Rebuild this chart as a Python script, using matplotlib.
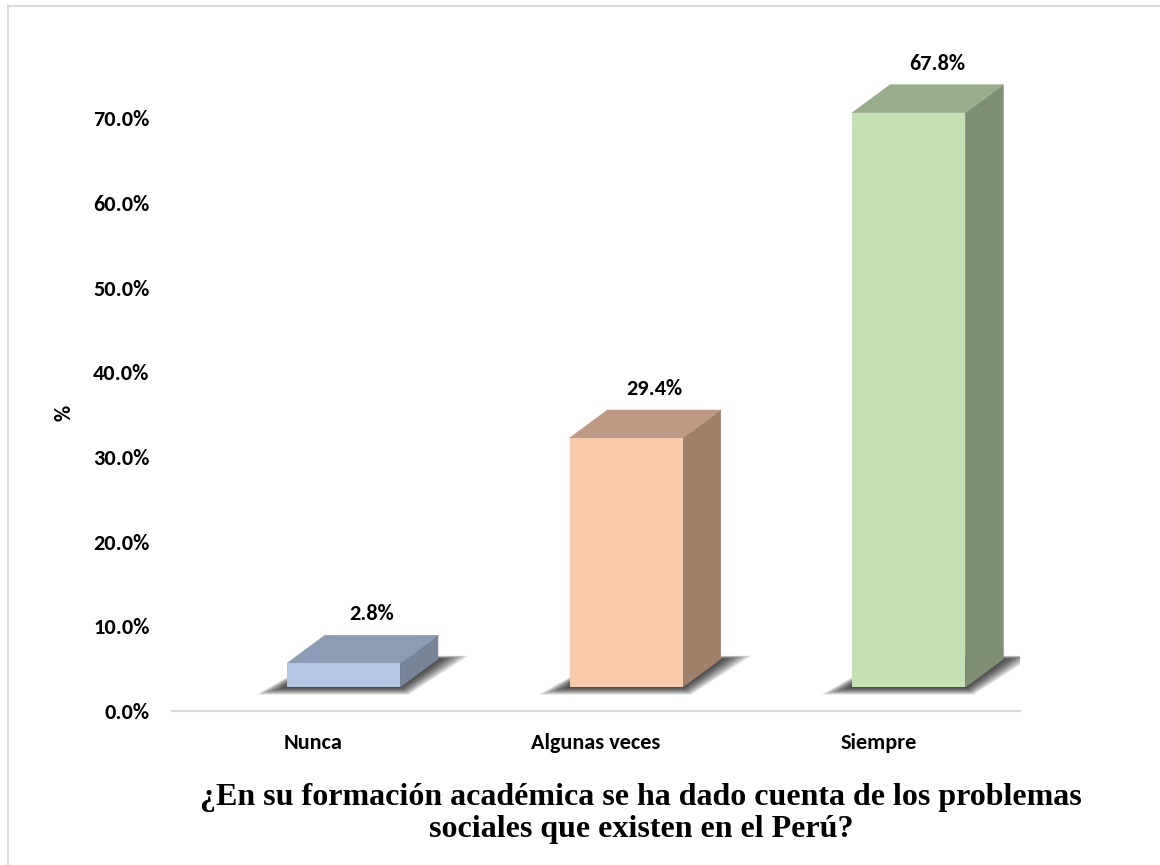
import matplotlib.pyplot as plt
from matplotlib.patches import Polygon
from matplotlib.lines import Line2D

# categories and values (%)
categorias = ['Nunca', 'Algunas veces', 'Siempre']
valores = [2.8, 29.4, 67.8]
etiquetas = ['2.8%', '29.4%', '67.8%']
yticks = [0, 10, 20, 30, 40, 50, 60, 70]
titulo = '¿En su formación académica se ha dado cuenta de los problemas\nsociales que existen en el Perú?'

# colours: front, top, side
frente = ['#B4C7E7', '#F8CBAD', '#C5E0B4']
arriba = ['#8D9CB5', '#BF9983', '#98AE8A']
lado = ['#77849A', '#A0806A', '#7F8F72']

# 3d look
off = 0.108     # front face shift to the right of the category centre
ancho = 0.40
dx = 0.134      # depth in x (data units)
dy = 3.3        # depth in y (%)
piso = 2.83     # floor raised above the axis line

fuente = 'Carlito'
fs = 16

fig = plt.figure(figsize=(11.6, 8.65), dpi=100)
ax = fig.add_axes([0.148, 0.178, 0.731, 0.7834])

x = list(range(len(categorias)))
xf = [i + off for i in x]

# soft shadow under each bar: stacked translucent layers, largest first
n = 14
for xi, v in zip(xf, valores):
    x0 = xi - ancho / 2
    x1 = xi + ancho / 2
    for k in range(n):
        s = 1 - k / n
        pts = [(x0 - 0.11 * s, piso - 0.9 * s), (x1 + 0.03 * s, piso - 0.9 * s),
               (x1 + dx + 0.11 * s, piso + dy + 0.4 * s),
               (x0 + dx, piso + dy + 0.4 * s)]
        ax.add_patch(Polygon(pts, closed=True, facecolor='black', edgecolor='none',
                             alpha=0.08, zorder=1))

# front faces
ax.bar(xf, valores, width=ancho, bottom=piso, color=frente, zorder=4)

# side and top faces
for xi, v, ct, cs in zip(xf, valores, arriba, lado):
    x0 = xi - ancho / 2
    x1 = xi + ancho / 2
    t = piso + v
    ax.add_patch(Polygon([(x1, piso), (x1 + dx, piso + dy), (x1 + dx, t + dy), (x1, t)],
                         closed=True, facecolor=cs, edgecolor=cs, lw=0.5, zorder=3))
    ax.add_patch(Polygon([(x0, t), (x1, t), (x1 + dx, t + dy), (x0 + dx, t + dy)],
                         closed=True, facecolor=ct, edgecolor=ct, lw=0.5, zorder=3))

# data labels
for xi, v, lab in zip(xf, valores, etiquetas):
    ax.text(xi + 0.1, piso + v + dy + 1.3, lab, ha='center', va='bottom',
            fontsize=fs, fontweight='bold', family=fuente, color='black')

ax.set_xlim(-0.5, 2.5)
ax.set_ylim(0, 80)
ax.set_yticks(yticks)
ax.set_yticklabels([f'{t:.1f}%' for t in yticks], fontsize=fs, fontweight='bold', family=fuente)
ax.set_xticks(x)
ax.set_xticklabels(categorias, fontsize=fs, fontweight='bold', family=fuente)
ax.tick_params(axis='y', length=0, pad=16)
ax.tick_params(axis='x', length=0, pad=16)

for s in ['top', 'right', 'left']:
    ax.spines[s].set_visible(False)
ax.spines['bottom'].set_color('#D9D9D9')
ax.spines['bottom'].set_linewidth(1.5)

ax.set_ylabel('%', fontsize=fs, fontweight='bold', family=fuente)
ax.yaxis.set_label_coords(-0.1144, 0.44)

fig.text(0.5526, 0.0595, titulo, ha='center', va='center', fontsize=23,
         fontweight='bold', family='Liberation Serif', linespacing=1.12)

# outer frame (top and left edges)
fig.add_artist(Line2D([0.0069, 1.0], [0.993, 0.993], color='#D9D9D9', lw=1.5))
fig.add_artist(Line2D([0.0069, 0.0069], [0.0, 0.993], color='#D9D9D9', lw=1.5))

fig.savefig('out.png', dpi=100)
